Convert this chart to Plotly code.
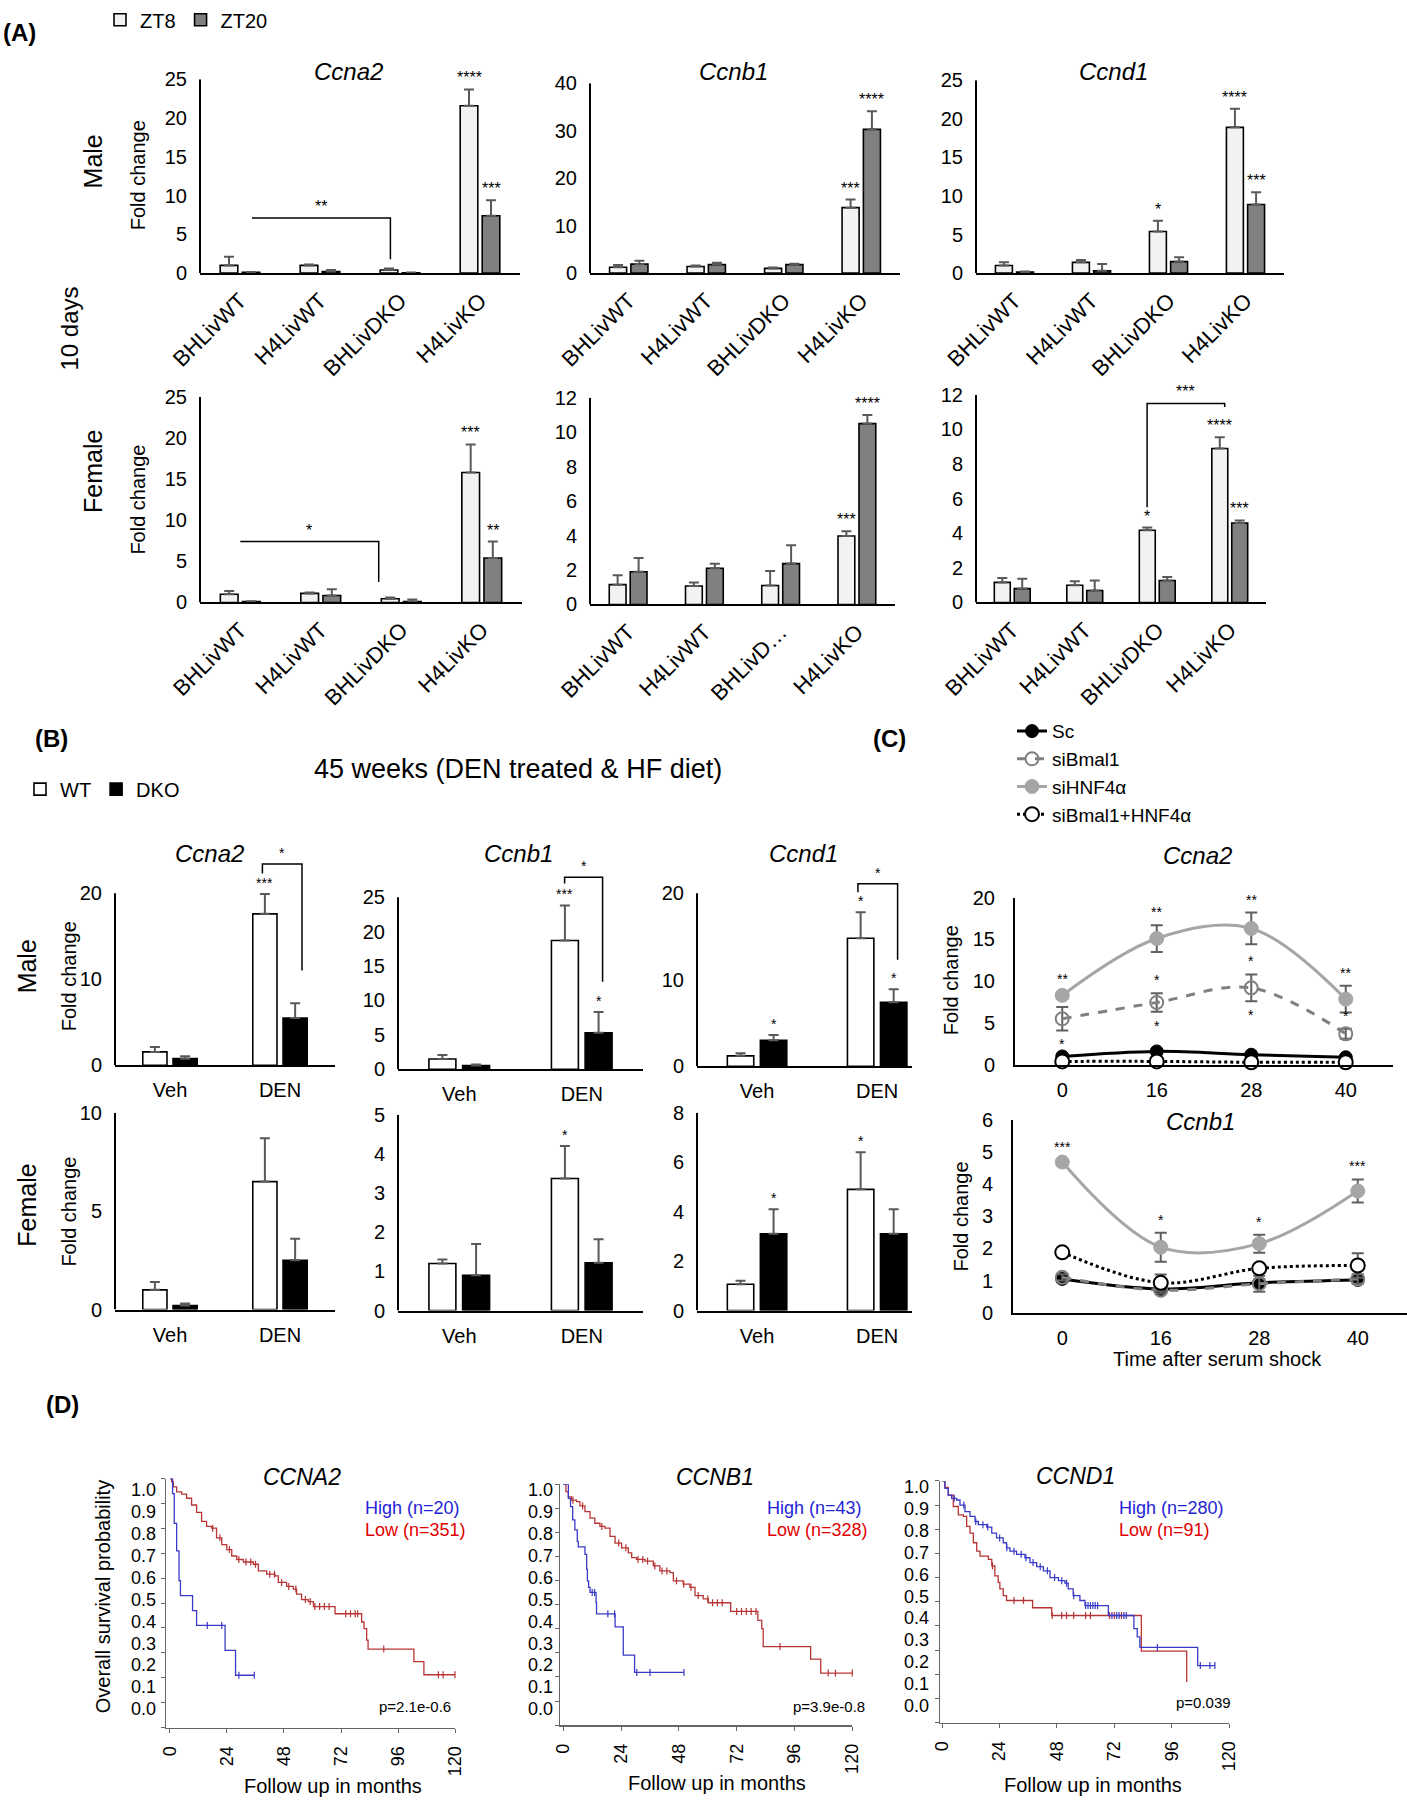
import plotly.graph_objects as go

W, H = 1407, 1800
SANS = "Liberation Sans, Arial, Helvetica, sans-serif"

# ======================= DATA =======================
# ---- (A) 10 days : ZT8 vs ZT20 ----
genotypes = ["BHLivWT", "H4LivWT", "BHLivDKO", "H4LivKO"]
genotypes_cut = ["BHLivWT", "H4LivWT", "BHLivD\u2026", "H4LivKO"]

a_m_ccna2_zt8 = [1.0, 1.0, 0.4, 21.6]
a_m_ccna2_zt8_err = [1.1, 0.1, 0.2, 2.1]
a_m_ccna2_zt20 = [0.1, 0.2, 0.05, 7.4]
a_m_ccna2_zt20_err = [0.05, 0.2, 0.05, 2.0]
a_m_ccna2_zt8_sig = ["", "", "", "****"]
a_m_ccna2_zt20_sig = ["", "", "", "***"]

a_m_ccnb1_zt8 = [1.25, 1.4, 1.0, 13.8]
a_m_ccnb1_zt8_err = [0.45, 0.2, 0.2, 1.7]
a_m_ccnb1_zt20 = [1.9, 1.8, 1.8, 30.3]
a_m_ccnb1_zt20_err = [0.7, 0.4, 0.2, 3.8]
a_m_ccnb1_zt8_sig = ["", "", "", "***"]
a_m_ccnb1_zt20_sig = ["", "", "", "****"]

a_m_ccnd1_zt8 = [1.0, 1.4, 5.4, 18.9]
a_m_ccnd1_zt8_err = [0.4, 0.3, 1.4, 2.4]
a_m_ccnd1_zt20 = [0.15, 0.3, 1.5, 8.9]
a_m_ccnd1_zt20_err = [0.05, 0.9, 0.55, 1.6]
a_m_ccnd1_zt8_sig = ["", "", "*", "****"]
a_m_ccnd1_zt20_sig = ["", "", "", "***"]

a_f_ccna2_zt8 = [1.0, 1.1, 0.45, 15.8]
a_f_ccna2_zt8_err = [0.4, 0.1, 0.15, 3.4]
a_f_ccna2_zt20 = [0.1, 0.85, 0.1, 5.4]
a_f_ccna2_zt20_err = [0.05, 0.75, 0.25, 2.0]
a_f_ccna2_zt8_sig = ["", "", "", "***"]
a_f_ccna2_zt20_sig = ["", "", "", "**"]

a_f_ccnb1_zt8 = [1.15, 1.07, 1.1, 3.97]
a_f_ccnb1_zt8_err = [0.55, 0.21, 0.84, 0.28]
a_f_ccnb1_zt20 = [1.9, 2.1, 2.37, 10.5]
a_f_ccnb1_zt20_err = [0.8, 0.26, 1.06, 0.5]
a_f_ccnb1_zt8_sig = ["", "", "", "***"]
a_f_ccnb1_zt20_sig = ["", "", "", "****"]

a_f_ccnd1_zt8 = [1.16, 0.99, 4.17, 8.9]
a_f_ccnd1_zt8_err = [0.25, 0.23, 0.16, 0.64]
a_f_ccnd1_zt20 = [0.8, 0.69, 1.27, 4.59]
a_f_ccnd1_zt20_err = [0.57, 0.58, 0.2, 0.15]
a_f_ccnd1_zt8_sig = ["", "", "*", "****"]
a_f_ccnd1_zt20_sig = ["", "", "", "***"]

# comparison brackets: (x_left, x_right, height, left_leg_end, right_leg_end, label) in category units
a_m_ccna2_bracket = (0.15, 1.88, 7.1, 7.1, 1.8, "**")
a_f_ccna2_bracket = (0.0, 1.72, 7.4, 7.4, 2.5, "*")
a_f_ccnd1_bracket = (1.86, 2.93, 11.5, 5.5, 11.3, "***")

# ---- (B) 45 weeks : WT vs DKO ----
treatments = ["Veh", "DEN"]
b_m_ccna2_wt = [1.55, 17.6]
b_m_ccna2_wt_err = [0.57, 2.3]
b_m_ccna2_dko = [0.77, 5.5]
b_m_ccna2_dko_err = [0.27, 1.7]
b_m_ccna2_wt_sig = ["", "***"]
b_m_ccna2_dko_sig = ["", ""]

b_m_ccnb1_wt = [1.48, 18.7]
b_m_ccnb1_wt_err = [0.57, 5.1]
b_m_ccnb1_dko = [0.53, 5.3]
b_m_ccnb1_dko_err = [0.15, 3.0]
b_m_ccnb1_wt_sig = ["", "***"]
b_m_ccnb1_dko_sig = ["", "*"]

b_m_ccnd1_wt = [1.2, 14.8]
b_m_ccnd1_wt_err = [0.3, 3.0]
b_m_ccnd1_dko = [3.0, 7.4]
b_m_ccnd1_dko_err = [0.6, 1.5]
b_m_ccnd1_wt_sig = ["", "*"]
b_m_ccnd1_dko_sig = ["*", "*"]

b_f_ccna2_wt = [1.0, 6.5]
b_f_ccna2_wt_err = [0.4, 2.2]
b_f_ccna2_dko = [0.2, 2.5]
b_f_ccna2_dko_err = [0.1, 1.1]
b_f_ccna2_wt_sig = ["", ""]
b_f_ccna2_dko_sig = ["", ""]

b_f_ccnb1_wt = [1.2, 3.37]
b_f_ccnb1_wt_err = [0.1, 0.83]
b_f_ccnb1_dko = [0.9, 1.22]
b_f_ccnb1_dko_err = [0.8, 0.6]
b_f_ccnb1_wt_sig = ["", "*"]
b_f_ccnb1_dko_sig = ["", ""]

b_f_ccnd1_wt = [1.06, 4.9]
b_f_ccnd1_wt_err = [0.14, 1.5]
b_f_ccnd1_dko = [3.1, 3.1]
b_f_ccnd1_dko_err = [1.0, 1.0]
b_f_ccnd1_wt_sig = ["", "*"]
b_f_ccnd1_dko_sig = ["*", ""]

b_m_ccna2_bracket = (0.84, 1.2, 23.4, 22.3, 11.0, "*")
b_m_ccnb1_bracket = (0.86, 1.17, 27.9, 27.0, 12.7, "*")
b_m_ccnd1_bracket = (0.84, 1.17, 21.1, 20.1, 12.3, "*")

# ---- (C) serum shock time course ----
c_times = ["0", "16", "28", "40"]
c_ccna2_sc = [1.0, 1.6, 1.2, 0.9]
c_ccna2_sc_err = [0.15, 0.2, 0.2, 0.15]
c_ccna2_sibmal1 = [5.5, 7.45, 9.2, 3.7]
c_ccna2_sibmal1_err = [1.4, 1.1, 1.6, 0.6]
c_ccna2_sihnf4a = [8.3, 15.1, 16.3, 7.85]
c_ccna2_sihnf4a_err = [0.4, 1.6, 1.9, 1.6]
c_ccna2_siboth = [0.4, 0.4, 0.3, 0.3]
c_ccna2_siboth_err = [0.1, 0.1, 0.1, 0.1]
c_ccna2_sihnf4a_sig = ["**", "**", "**", "**"]
c_ccna2_sibmal1_sig_up = ["", "*", "*", "*"]
c_ccna2_sibmal1_sig_down = ["*", "*", "*", ""]

c_ccnb1_sc = [1.05, 0.74, 0.93, 1.02]
c_ccnb1_sc_err = [0.1, 0.08, 0.1, 0.1]
c_ccnb1_sibmal1 = [1.1, 0.7, 0.9, 1.05]
c_ccnb1_sibmal1_err = [0.1, 0.1, 0.25, 0.15]
c_ccnb1_sihnf4a = [4.69, 2.04, 2.15, 3.79]
c_ccnb1_sihnf4a_err = [0.08, 0.45, 0.28, 0.36]
c_ccnb1_siboth = [1.88, 0.93, 1.38, 1.47]
c_ccnb1_siboth_err = [0.05, 0.26, 0.1, 0.38]
c_ccnb1_sihnf4a_sig = ["***", "*", "*", "***"]

# ---- (D) Kaplan-Meier (months, survival) ----
d_ccna2_high_t = [0, 1.1, 1.8, 2.8, 3.8, 4.4, 9.5, 11.2, 23.2, 27.6, 35.5]
d_ccna2_high_s = [1.0, 0.94, 0.82, 0.71, 0.59, 0.53, 0.47, 0.41, 0.31, 0.21, 0.21]
d_ccna2_high_cens = [15.7, 21.8, 29.0, 35.5]
d_ccna2_low_t = [0, 0.7, 1.4, 2.8, 4.9, 7.0, 9.1, 11.2, 13.3, 15.4, 17.5, 19.6, 21.8, 23.9, 26.0, 28.1,
                 30.9, 35.1, 37.2, 40.7, 44.2, 45.6, 49.1, 51.9, 53.3, 55.4, 58.2, 60.4, 69.5, 80.7,
                 81.7, 82.8, 83.4, 102.7, 106.9, 120]
d_ccna2_low_s = [1.0, 0.987, 0.967, 0.947, 0.938, 0.921, 0.894, 0.864, 0.828, 0.808, 0.801, 0.762, 0.735,
                 0.715, 0.689, 0.675, 0.665, 0.656, 0.629, 0.616, 0.609, 0.583, 0.567, 0.556, 0.536, 0.514,
                 0.506, 0.486, 0.457, 0.424, 0.397, 0.351, 0.315, 0.265, 0.212, 0.212]
d_ccna2_low_cens = [18, 21, 25, 29, 32, 34, 36, 42, 44, 47, 50, 53, 57, 59, 61, 63, 65, 67, 74, 76, 78,
                    79, 90, 113, 115, 120]

d_ccnb1_high_t = [0, 2.1, 3.0, 3.9, 4.8, 5.8, 6.2, 9.0, 9.7, 10.0, 10.5, 11.1, 13.6, 13.8, 21.5, 24.9,
                  29.6, 50.1]
d_ccnb1_high_s = [1.0, 0.941, 0.907, 0.852, 0.811, 0.763, 0.740, 0.709, 0.647, 0.599, 0.572, 0.551, 0.510,
                  0.462, 0.408, 0.291, 0.219, 0.219]
d_ccnb1_high_cens = [12.0, 13.0, 18.5, 21.3, 30.5, 36.0, 50.1]
d_ccnb1_low_t = [0, 1.1, 2.1, 3.5, 5.5, 6.9, 9.0, 11.1, 13.1, 15.2, 17.3, 19.4, 21.5, 24.2, 27.0, 28.4,
                 30.4, 33.9, 37.4, 40.1, 44.3, 45.7, 49.8, 52.6, 54.7, 58.1, 60.2, 69.5, 80.8, 82.4, 83.0,
                 102.7, 106.9, 120]
d_ccnb1_low_s = [1.0, 0.969, 0.948, 0.934, 0.928, 0.910, 0.886, 0.859, 0.838, 0.825, 0.818, 0.784, 0.756,
                 0.736, 0.715, 0.695, 0.688, 0.681, 0.661, 0.640, 0.633, 0.599, 0.585, 0.572, 0.538, 0.524,
                 0.508, 0.472, 0.435, 0.401, 0.326, 0.274, 0.216, 0.216]
d_ccnb1_low_cens = [4, 8, 16, 23, 26, 31, 33, 35, 38, 41, 43, 47, 50, 53, 56, 60, 62, 64, 66, 72, 74, 76,
                    78, 80, 90, 110, 113, 120]

d_ccnd1_high_t = [0, 1.1, 2.5, 3.9, 6.0, 7.4, 9.5, 11.6, 13.7, 15.1, 18.6, 20.7, 22.7, 25.5, 26.9, 28.3,
                  31.1, 34.6, 36.7, 39.5, 42.3, 45.1, 48.6, 51.3, 52.7, 54.8, 57.6, 59.7, 69.5, 80.2, 81.6,
                  82.7, 106.9, 114.1]
d_ccnd1_high_s = [1.0, 0.969, 0.941, 0.928, 0.921, 0.900, 0.873, 0.853, 0.832, 0.819, 0.809, 0.784, 0.764,
                  0.744, 0.723, 0.709, 0.696, 0.682, 0.662, 0.645, 0.628, 0.600, 0.587, 0.577, 0.553, 0.525,
                  0.505, 0.484, 0.443, 0.389, 0.355, 0.311, 0.236, 0.236]
d_ccnd1_high_cens = [5, 9, 14, 17, 19, 24, 27, 30, 33, 35, 38, 41, 44, 47, 50, 52, 55, 60, 61, 62, 63, 64,
                     65, 71, 73, 74, 76, 77, 90, 108, 112, 114.1]
d_ccnd1_low_t = [0, 1.1, 2.5, 4.6, 6.7, 8.8, 10.2, 11.6, 13.0, 14.4, 15.8, 19.3, 20.7, 22.0, 23.4, 24.1,
                 25.5, 26.9, 37.8, 45.8, 83.3, 102.3]
d_ccnd1_low_s = [1.0, 0.973, 0.941, 0.894, 0.859, 0.853, 0.812, 0.784, 0.744, 0.709, 0.689, 0.675, 0.648,
                 0.607, 0.580, 0.553, 0.525, 0.505, 0.475, 0.443, 0.296, 0.168]
d_ccnd1_low_cens = [21, 30, 34, 46, 50, 52, 55, 60, 62, 70, 72, 75]

km_months = [0, 24, 48, 72, 96, 120]
km_prob = [round(0.1 * i, 1) for i in range(11)]

# ======================= BUILD =======================
fig = go.Figure()
annotations = []
shapes = []
axes_layout = {}
_axn = [0]


def _next():
    _axn[0] += 1
    return "" if _axn[0] == 1 else str(_axn[0])


def X(p):
    return p / W


def Y(p):
    return 1 - p / H


def label(xp, yp, s, size, angle=0, xanchor="center", yanchor="middle", color="black"):
    annotations.append(dict(x=X(xp), y=Y(yp), xref="paper", yref="paper", text=s, showarrow=False,
                            textangle=angle, xanchor=xanchor, yanchor=yanchor,
                            font=dict(family=SANS, size=size, color=color)))


def bar_panel(x0, x1, y_zero, y_top, top, dtick, cats, series, ext=None, xr=None, tickangle=-45,
              cat_size=22, tick_size=20, star_size=16, y_standoff=12, x_standoff=4,
              legend=None, bracket=None):
    s = _next()
    xa, ya = "x" + s, "y" + s
    ext = ext if ext is not None else top
    scale = (y_zero - y_top) / top
    y_ext = y_zero - ext * scale
    n = len(cats)
    xr = xr if xr is not None else [-0.5, n - 0.5]
    axes_layout["xaxis" + s] = dict(
        domain=[X(x0), X(x1)], anchor=ya, range=xr, tickmode="array", tickvals=list(range(n)),
        ticktext=cats, tickangle=tickangle, showline=True, linecolor="black", linewidth=2, ticks="",
        showgrid=False, zeroline=False, tickfont=dict(size=cat_size), ticklabelstandoff=x_standoff,
        automargin=False)
    axes_layout["yaxis" + s] = dict(
        domain=[Y(y_zero), Y(y_ext)], anchor=xa, range=[0, ext], tickmode="array",
        tickvals=list(range(0, top + 1, dtick)), showline=False, ticks="", showgrid=False,
        zeroline=False, tickfont=dict(size=tick_size), ticklabelstandoff=y_standoff, automargin=False)
    shapes.append(dict(type="line", xref=xa + " domain", yref=ya, x0=0, x1=0, y0=0, y1=top,
                       line=dict(color="black", width=2)))
    for k, (name, vals, errs, sig, fill) in enumerate(series):
        off = (-1 if k == 0 else 1) * 0.1375
        kw = dict(legend=legend) if legend else {}
        fig.add_trace(go.Bar(
            x=list(range(n)), y=vals, name=name, xaxis=xa, yaxis=ya,
            marker=dict(color=fill, line=dict(color="black", width=1.6)),
            error_y=dict(type="data", symmetric=False, array=errs, arrayminus=[0] * n,
                         color="#595959", thickness=2, width=5),
            showlegend=legend is not None, **kw))
        for i, st in enumerate(sig):
            if st:
                annotations.append(dict(x=i + off, y=vals[i] + errs[i], xref=xa, yref=ya, text=st,
                                        showarrow=False, yanchor="bottom", yshift=1,
                                        font=dict(size=star_size)))
    if bracket:
        xl, xrr, h, le, rle, lab = bracket
        fig.add_trace(go.Scatter(x=[xl, xl, xrr, xrr], y=[le, h, h, rle], mode="lines",
                                 line=dict(color="black", width=1.5), xaxis=xa, yaxis=ya,
                                 showlegend=False, hoverinfo="skip"))
        annotations.append(dict(x=(xl + xrr) / 2, y=h, xref=xa, yref=ya, text=lab, showarrow=False,
                                yanchor="bottom", yshift=1, font=dict(size=star_size)))
    return xa, ya


ZT8_C, ZT20_C = "#f2f2f2", "#808080"

# ---- Panel A ----
bar_panel(200, 520, 256, 60, 25, 5, genotypes,
          [("ZT8", a_m_ccna2_zt8, a_m_ccna2_zt8_err, a_m_ccna2_zt8_sig, ZT8_C),
           ("ZT20", a_m_ccna2_zt20, a_m_ccna2_zt20_err, a_m_ccna2_zt20_sig, ZT20_C)],
          legend="legend", bracket=a_m_ccna2_bracket)
bar_panel(590, 900, 256, 64, 40, 10, genotypes,
          [("ZT8", a_m_ccnb1_zt8, a_m_ccnb1_zt8_err, a_m_ccnb1_zt8_sig, ZT8_C),
           ("ZT20", a_m_ccnb1_zt20, a_m_ccnb1_zt20_err, a_m_ccnb1_zt20_sig, ZT20_C)])
bar_panel(976, 1284, 256, 61, 25, 5, genotypes,
          [("ZT8", a_m_ccnd1_zt8, a_m_ccnd1_zt8_err, a_m_ccnd1_zt8_sig, ZT8_C),
           ("ZT20", a_m_ccnd1_zt20, a_m_ccnd1_zt20_err, a_m_ccnd1_zt20_sig, ZT20_C)])
bar_panel(200, 522, 589, 381, 25, 5, genotypes,
          [("ZT8", a_f_ccna2_zt8, a_f_ccna2_zt8_err, a_f_ccna2_zt8_sig, ZT8_C),
           ("ZT20", a_f_ccna2_zt20, a_f_ccna2_zt20_err, a_f_ccna2_zt20_sig, ZT20_C)],
          bracket=a_f_ccna2_bracket)
bar_panel(590, 895, 591, 382, 12, 2, genotypes_cut,
          [("ZT8", a_f_ccnb1_zt8, a_f_ccnb1_zt8_err, a_f_ccnb1_zt8_sig, ZT8_C),
           ("ZT20", a_f_ccnb1_zt20, a_f_ccnb1_zt20_err, a_f_ccnb1_zt20_sig, ZT20_C)])
bar_panel(976, 1266, 589, 379, 12, 2, genotypes,
          [("ZT8", a_f_ccnd1_zt8, a_f_ccnd1_zt8_err, a_f_ccnd1_zt8_sig, ZT8_C),
           ("ZT20", a_f_ccnd1_zt20, a_f_ccnd1_zt20_err, a_f_ccnd1_zt20_sig, ZT20_C)],
          bracket=a_f_ccnd1_bracket)

label(19, 13, "<b>(A)</b>", 24)
label(93, 143, "Male", 25, -90)
label(93, 457, "Female", 25, -90)
label(70, 312, "10 days", 24, -90)
label(138, 157, "Fold change", 20, -90)
label(138, 485, "Fold change", 20, -90)
label(348, 52, "<i>Ccna2</i>", 24)
label(733, 52, "<i>Ccnb1</i>", 24)
label(1113, 52, "<i>Ccnd1</i>", 24)

# ---- Panel B ----
WT_C, DKO_C = "#ffffff", "#000000"
bkw = dict(tickangle=0, x_standoff=6, y_standoff=12, star_size=14, cat_size=20)
bar_panel(115, 335, 1057, 883, 20, 10, treatments,
          [("WT", b_m_ccna2_wt, b_m_ccna2_wt_err, b_m_ccna2_wt_sig, WT_C),
           ("DKO", b_m_ccna2_dko, b_m_ccna2_dko_err, b_m_ccna2_dko_sig, DKO_C)],
          ext=24.8, legend="legend2", bracket=b_m_ccna2_bracket, **bkw)
bar_panel(398, 643, 1061, 887, 25, 5, treatments,
          [("WT", b_m_ccnb1_wt, b_m_ccnb1_wt_err, b_m_ccnb1_wt_sig, WT_C),
           ("DKO", b_m_ccnb1_dko, b_m_ccnb1_dko_err, b_m_ccnb1_dko_sig, DKO_C)],
          ext=29.0, bracket=b_m_ccnb1_bracket, **bkw)
bar_panel(697, 912, 1058, 883, 20, 10, treatments,
          [("WT", b_m_ccnd1_wt, b_m_ccnd1_wt_err, b_m_ccnd1_wt_sig, WT_C),
           ("DKO", b_m_ccnd1_dko, b_m_ccnd1_dko_err, b_m_ccnd1_dko_sig, DKO_C)],
          ext=22.0, xr=[-0.5, 1.29], bracket=b_m_ccnd1_bracket, **bkw)
bar_panel(115, 335, 1304, 1105, 10, 5, treatments,
          [("WT", b_f_ccna2_wt, b_f_ccna2_wt_err, b_f_ccna2_wt_sig, WT_C),
           ("DKO", b_f_ccna2_dko, b_f_ccna2_dko_err, b_f_ccna2_dko_sig, DKO_C)], **bkw)
bar_panel(398, 643, 1305, 1107, 5, 1, treatments,
          [("WT", b_f_ccnb1_wt, b_f_ccnb1_wt_err, b_f_ccnb1_wt_sig, WT_C),
           ("DKO", b_f_ccnb1_dko, b_f_ccnb1_dko_err, b_f_ccnb1_dko_sig, DKO_C)], **bkw)
bar_panel(697, 912, 1305, 1105, 8, 2, treatments,
          [("WT", b_f_ccnd1_wt, b_f_ccnd1_wt_err, b_f_ccnd1_wt_sig, WT_C),
           ("DKO", b_f_ccnd1_dko, b_f_ccnd1_dko_err, b_f_ccnd1_dko_sig, DKO_C)],
          xr=[-0.5, 1.29], **bkw)

label(51, 727, "<b>(B)</b>", 24)
label(518, 757, "45 weeks (DEN treated &amp; HF diet)", 27)
label(27, 957, "Male", 25, -90)
label(27, 1199, "Female", 25, -90)
label(69, 967, "Fold change", 20, -90)
label(69, 1205, "Fold change", 20, -90)
label(210, 843, "<i>Ccna2</i>", 24)
label(518, 843, "<i>Ccnb1</i>", 24)
label(803, 843, "<i>Ccnd1</i>", 24)


# ---- Panel C ----
def line_panel(x0, x1, y_zero, y_top, top, dtick, series, legend=None):
    s = _next()
    xa, ya = "x" + s, "y" + s
    n = len(c_times)
    axes_layout["xaxis" + s] = dict(
        domain=[X(x0), X(x1)], anchor=ya, range=[-0.5, n - 0.5], tickmode="array",
        tickvals=list(range(n)), ticktext=c_times, showline=True, linecolor="black", linewidth=2,
        ticks="", showgrid=False, zeroline=False, tickfont=dict(size=20), ticklabelstandoff=6,
        automargin=False)
    axes_layout["yaxis" + s] = dict(
        domain=[Y(y_zero), Y(y_top)], anchor=xa, range=[0, top], tickmode="array",
        tickvals=list(range(0, top + 1, dtick)), showline=True, linecolor="black", linewidth=2,
        ticks="", showgrid=False, zeroline=False, tickfont=dict(size=20), ticklabelstandoff=14,
        automargin=False)
    for name, vals, errs, color, dash, marker, sig_up, sig_down in series:
        kw = dict(legend=legend) if legend else {}
        fig.add_trace(go.Scatter(
            x=list(range(n)), y=vals, name=name, xaxis=xa, yaxis=ya, mode="lines+markers",
            line=dict(color=color, width=3, dash=dash, shape="spline", smoothing=1.0),
            marker=marker, cliponaxis=False,
            error_y=dict(type="data", array=errs, color="#606060", thickness=2, width=6),
            showlegend=legend is not None, **kw))
        for i, st in enumerate(sig_up or []):
            if st:
                annotations.append(dict(x=i, y=vals[i] + errs[i], xref=xa, yref=ya, text=st,
                                        showarrow=False, yanchor="bottom", yshift=3,
                                        font=dict(size=14)))
        for i, st in enumerate(sig_down or []):
            if st:
                annotations.append(dict(x=i, y=vals[i] - errs[i], xref=xa, yref=ya, text=st,
                                        showarrow=False, yanchor="top", yshift=-4,
                                        font=dict(size=14)))


SC_M = dict(symbol="circle", size=13, color="black", line=dict(color="black", width=1))
BM_M = dict(symbol="circle-open", size=13, color="#808080", line=dict(color="#808080", width=2))
HN_M = dict(symbol="circle", size=14, color="#a6a6a6", line=dict(color="#a6a6a6", width=1))
BO_M = dict(symbol="circle", size=14, color="white", line=dict(color="black", width=2))

line_panel(1015, 1393, 1056.5, 887.4, 20, 5, [
    ("Sc", c_ccna2_sc, c_ccna2_sc_err, "black", "solid", SC_M, None, None),
    ("siBmal1", c_ccna2_sibmal1, c_ccna2_sibmal1_err, "#808080", "dash", BM_M,
     c_ccna2_sibmal1_sig_up, c_ccna2_sibmal1_sig_down),
    ("siHNF4\u03b1", c_ccna2_sihnf4a, c_ccna2_sihnf4a_err, "#a6a6a6", "solid", HN_M,
     c_ccna2_sihnf4a_sig, None),
    ("siBmal1+HNF4\u03b1", c_ccna2_siboth, c_ccna2_siboth_err, "black", "dot", BO_M, None, None),
], legend="legend3")
line_panel(1013, 1407, 1307.2, 1112.4, 6, 1, [
    ("Sc", c_ccnb1_sc, c_ccnb1_sc_err, "black", "solid", SC_M, None, None),
    ("siBmal1", c_ccnb1_sibmal1, c_ccnb1_sibmal1_err, "#808080", "dash", BM_M, None, None),
    ("siHNF4\u03b1", c_ccnb1_sihnf4a, c_ccnb1_sihnf4a_err, "#a6a6a6", "solid", HN_M,
     c_ccnb1_sihnf4a_sig, None),
    ("siBmal1+HNF4\u03b1", c_ccnb1_siboth, c_ccnb1_siboth_err, "black", "dot", BO_M, None, None),
])

label(889, 727, "<b>(C)</b>", 24)
label(1197, 845, "<i>Ccna2</i>", 24)
label(1200, 1114, "<i>Ccnb1</i>", 24)
label(951, 971, "Fold change", 20, -90)
label(961, 1210, "Fold change", 20, -90)
label(1217, 1354, "Time after serum shock", 20)


# ---- Panel D ----
def step_at(ts, ss, t):
    v = ss[0]
    for ti, si in zip(ts, ss):
        if ti <= t:
            v = si
    return v


BLUE_L, RED_L = "#3a3ac8", "#b83434"


def km_panel(x0, x1, y_zero, y_one, xmin, curves, lab_a, lab_b, lab_gap):
    s = _next()
    xa, ya = "x" + s, "y" + s
    axes_layout["xaxis" + s] = dict(
        domain=[X(x0), X(x1)], anchor=ya, range=[xmin, 120], tickmode="array", tickvals=km_months,
        ticktext=[str(m) for m in km_months], tickangle=-90, showline=True, linecolor="#666666",
        linewidth=1.5, ticks="outside", ticklen=4, tickcolor="#666666", showgrid=False,
        zeroline=False, tickfont=dict(size=18), ticklabelstandoff=6, automargin=False)
    axes_layout["yaxis" + s] = dict(
        domain=[Y(y_zero), Y(y_one)], anchor=xa, range=[0, 1.0], tickmode="array", tickvals=km_prob,
        showticklabels=False, showline=True, linecolor="#666666", linewidth=1.5, ticks="outside",
        ticklen=4, tickcolor="#666666", showgrid=False, zeroline=False, automargin=False)
    for ts, ss, cens, color in curves:
        fig.add_trace(go.Scatter(x=ts, y=ss, mode="lines", line=dict(color=color, width=1.3, shape="hv"),
                                 xaxis=xa, yaxis=ya, showlegend=False, cliponaxis=False,
                                 hoverinfo="skip"))
        fig.add_trace(go.Scatter(x=cens, y=[step_at(ts, ss, c) for c in cens], mode="markers",
                                 marker=dict(symbol="line-ns-open", size=5, color=color,
                                             line=dict(color=color, width=1.2)),
                                 xaxis=xa, yaxis=ya, showlegend=False, cliponaxis=False,
                                 hoverinfo="skip"))
    for v in km_prob:
        annotations.append(dict(x=X(x0 - lab_gap), y=lab_a + lab_b * v, xref="paper", yref=ya,
                                text=f"{v:.1f}", showarrow=False, xanchor="right", yanchor="middle",
                                font=dict(size=18)))


km_panel(166, 455, 1726.7, 1475, -1.68,
         [(d_ccna2_low_t, d_ccna2_low_s, d_ccna2_low_cens, RED_L),
          (d_ccna2_high_t, d_ccna2_high_s, d_ccna2_high_cens, BLUE_L)], 0.073, 0.881, 8)
km_panel(560, 852.3, 1724.3, 1480.7, -1.37,
         [(d_ccnb1_low_t, d_ccnb1_low_s, d_ccnb1_low_cens, RED_L),
          (d_ccnb1_high_t, d_ccnb1_high_s, d_ccnb1_high_cens, BLUE_L)], 0.066, 0.909, 5)
km_panel(940, 1229, 1721.7, 1477.3, -0.96,
         [(d_ccnd1_low_t, d_ccnd1_low_s, d_ccnd1_low_cens, RED_L),
          (d_ccnd1_high_t, d_ccnd1_high_s, d_ccnd1_high_cens, BLUE_L)], 0.068, 0.907, 9)

label(62, 1400, "<b>(D)</b>", 24)
label(103, 1595, "Overall survival probability", 20, -90)
label(302, 1473, "<i>CCNA2</i>", 23)
label(715, 1473, "<i>CCNB1</i>", 23)
label(1075, 1472, "<i>CCND1</i>", 23)
HIGH_T, LOW_T = "#2424d4", "#e00000"
label(363, 1505, "High (n=20)", 18, xanchor="left", color=HIGH_T)
label(363, 1527, "Low (n=351)", 18, xanchor="left", color=LOW_T)
label(765, 1505, "High (n=43)", 18, xanchor="left", color=HIGH_T)
label(765, 1527, "Low (n=328)", 18, xanchor="left", color=LOW_T)
label(1117, 1505, "High (n=280)", 18, xanchor="left", color=HIGH_T)
label(1117, 1527, "Low (n=91)", 18, xanchor="left", color=LOW_T)
label(453, 1705, "p=2.1e-0.6", 15, xanchor="right")
label(867, 1705, "p=3.9e-0.8", 15, xanchor="right")
label(1233, 1701, "p=0.039", 15, xanchor="right")
label(333, 1786, "Follow up in months", 20)
label(717, 1783, "Follow up in months", 20)
label(1093, 1785, "Follow up in months", 20)

fig.update_layout(
    template="none", width=W, height=H, margin=dict(l=0, r=0, t=0, b=0),
    paper_bgcolor="white", plot_bgcolor="white",
    font=dict(family=SANS, size=20, color="black"),
    barmode="group", bargap=0.45, bargroupgap=0.2, hovermode=False,
    annotations=annotations, shapes=shapes, showlegend=True,
    legend=dict(x=X(100), y=Y(-20), xanchor="left", yanchor="top", orientation="h",
                font=dict(size=20), bgcolor="rgba(0,0,0,0)", borderwidth=0, itemwidth=30,
                itemclick=False),
    legend2=dict(x=X(20), y=Y(758), xanchor="left", yanchor="top", orientation="h",
                 font=dict(size=20), bgcolor="rgba(0,0,0,0)", borderwidth=0, itemwidth=30,
                 itemclick=False),
    legend3=dict(x=X(1012), y=Y(700), xanchor="left", yanchor="top", orientation="v",
                 font=dict(size=19), bgcolor="rgba(0,0,0,0)", borderwidth=0, itemwidth=30,
                 tracegroupgap=0, itemclick=False),
    **axes_layout,
)

fig.write_html(
    "out.html",
    config={"displayModeBar": False, "staticPlot": True},
    post_script="document.body.style.margin='0px';document.body.style.padding='0px';"
                "document.body.style.overflow='hidden';",
)
